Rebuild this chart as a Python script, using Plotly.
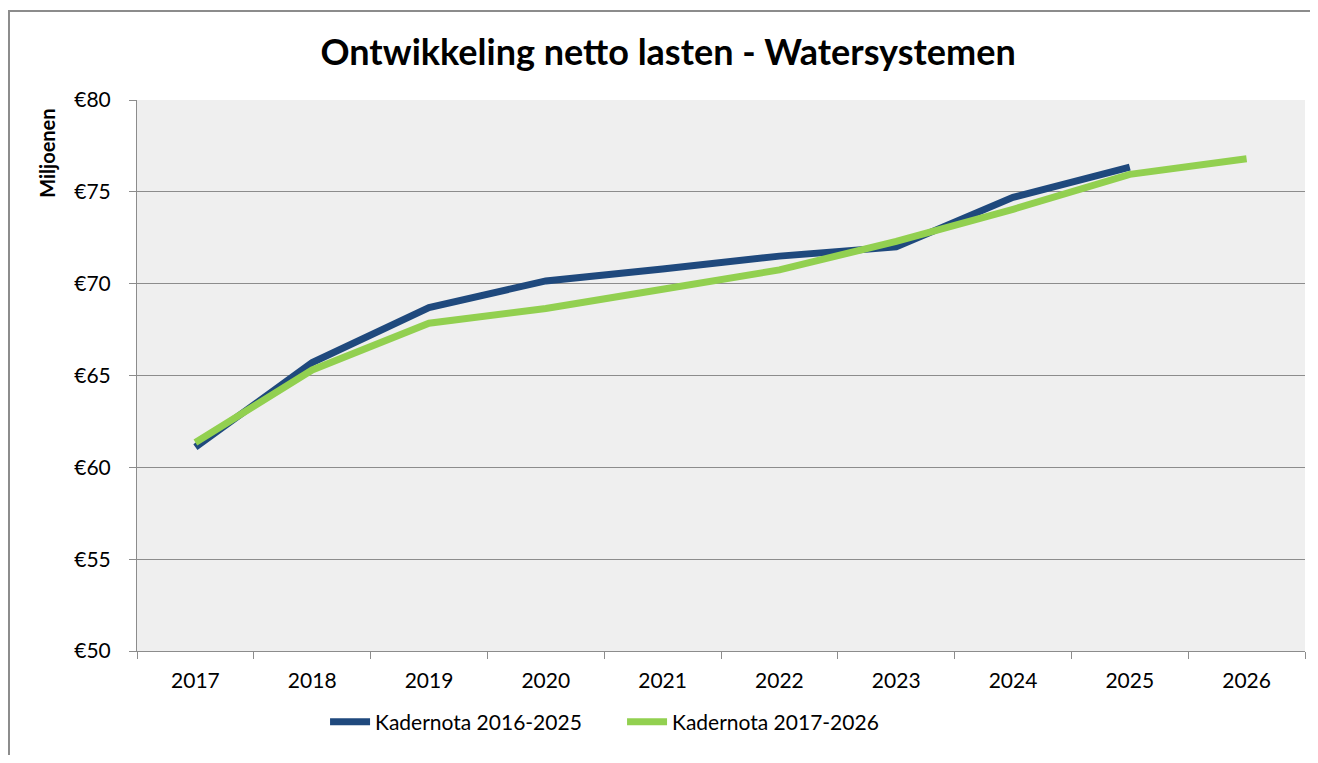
import plotly.graph_objects as go

years = ["2017", "2018", "2019", "2020", "2021", "2022", "2023", "2024", "2025", "2026"]
kadernota_2016_2025 = [61.1, 65.7, 68.7, 70.15, 70.8, 71.5, 72.0, 74.7, 76.35]
kadernota_2017_2026 = [61.35, 65.3, 67.85, 68.65, 69.7, 70.75, 72.3, 74.05, 75.95, 76.8]
series_names = ["Kadernota 2016-2025", "Kadernota 2017-2026"]
y_ticks = [50, 55, 60, 65, 70, 75, 80]

font_family = "Lato, 'Open Sans', sans-serif"

traces = [
    go.Scatter(
        x=years[:len(kadernota_2016_2025)],
        y=kadernota_2016_2025,
        mode="lines",
        name=series_names[0],
        line=dict(color="#1f497d", width=7),
    ),
    go.Scatter(
        x=years,
        y=kadernota_2017_2026,
        mode="lines",
        name=series_names[1],
        line=dict(color="#92d050", width=7),
    ),
]

# the page body adds an 8px margin, so the figure is a bit smaller than the window
layout = go.Layout(
    width=1302,
    height=747,
    autosize=False,
    margin=dict(l=129, r=5, t=92, b=104),
    paper_bgcolor="white",
    plot_bgcolor="#efefef",
    font=dict(family=font_family, size=21, color="black"),
    title=dict(
        text="<b>Ontwikkeling netto lasten - Watersystemen</b>",
        x=0.507,
        xanchor="center",
        y=0.94,
        yanchor="middle",
        font=dict(size=36, family=font_family, color="black"),
    ),
    xaxis=dict(
        type="category",
        categoryorder="array",
        categoryarray=years,
        range=[-0.5, 9.5],
        showgrid=False,
        showline=True,
        linecolor="#8c8c8c",
        linewidth=1,
        ticks="outside",
        tickson="boundaries",
        ticklen=7,
        tickcolor="#8c8c8c",
        ticklabelstandoff=11,
        zeroline=False,
    ),
    yaxis=dict(
        range=[50, 80],
        tickvals=y_ticks,
        ticktext=["€" + str(v) for v in y_ticks],
        showgrid=True,
        gridcolor="#8c8c8c",
        gridwidth=1,
        showline=True,
        linecolor="#8c8c8c",
        linewidth=1,
        ticks="outside",
        ticklen=7,
        tickcolor="#8c8c8c",
        ticklabelstandoff=14,
        zeroline=False,
    ),
    showlegend=True,
    legend=dict(
        orientation="h",
        x=0.161,
        xanchor="left",
        y=-0.129,
        yanchor="middle",
        font=dict(size=21, family=font_family),
        itemwidth=40,
        entrywidth=242,
        bgcolor="rgba(0,0,0,0)",
    ),
    annotations=[
        dict(
            text="<b>Miljoenen</b>",
            xref="paper",
            yref="paper",
            x=-0.077,
            y=0.987,
            xanchor="center",
            yanchor="top",
            textangle=-90,
            showarrow=False,
            font=dict(size=20, family=font_family, color="black"),
        )
    ],
    shapes=[
        dict(
            type="rect",
            xref="paper",
            yref="paper",
            x0=-0.1096,
            x1=1.03,
            y0=-0.25,
            y1=1.1615,
            line=dict(color="#8c8c8c", width=2),
            layer="below",
        )
    ],
)

fig = go.Figure(data=traces, layout=layout)
fig.write_html("out.html")
